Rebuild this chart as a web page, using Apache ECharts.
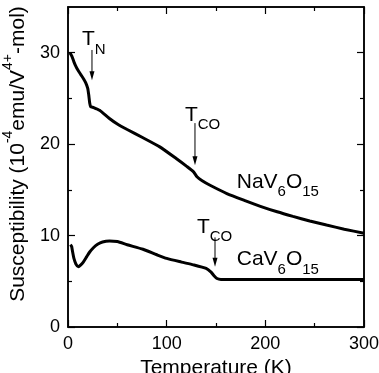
<!DOCTYPE html>
<html>
<head>
<meta charset="utf-8">
<script src="https://cdn.jsdelivr.net/npm/echarts@6/dist/echarts.min.js"></script>
<style>
  html, body { margin: 0; padding: 0; background: #fff; }
  #chart { width: 379px; height: 373px; }
</style>
</head>
<body>
<div id="chart"></div>
<script>
// NaV6O15: [T (K), chi (1e-4 emu/V4+-mol)]
const naData = [
  [2, 30.0], [4, 29.6], [6, 29.0], [8, 28.5], [10, 28.1], [13, 27.6], [16, 27.1],
  [18, 26.7], [20, 26.1], [21, 25.4], [22, 24.5], [23, 24.1], [26, 24.0], [32, 23.7],
  [42, 22.8], [50, 22.2], [60, 21.6], [76, 20.7], [93, 19.7], [110, 18.4], [120, 17.6],
  [127, 17.0], [131, 16.4], [136, 16.0], [144, 15.5], [161, 14.6], [180, 13.8],
  [195, 13.2], [212, 12.6], [228, 12.1], [245, 11.6], [262, 11.15], [280, 10.7], [300, 10.25]
];
// CaV6O15
const caData = [
  [2.5, 9.0], [3.7, 8.8], [4.7, 8.2], [6, 7.5], [8, 6.9], [10.5, 6.6], [13, 6.8],
  [15.5, 7.1], [19, 7.7], [22, 8.2], [26, 8.7], [30, 9.05], [35, 9.3], [42, 9.4],
  [50, 9.35], [60, 9.0], [76, 8.5], [90, 7.9], [100, 7.5], [115, 7.1], [127, 6.8],
  [140, 6.4], [145, 6.0], [148, 5.6], [151, 5.3], [155, 5.2], [170, 5.2], [200, 5.2],
  [250, 5.2], [300, 5.2]
];
const xMajor = [0, 100, 200, 300];
const xMinor = [50, 150, 250];
const yMajor = [0, 10, 20, 30];
const yMinor = [5, 15, 25];
// arrows: [T, chi from, chi to]
const arrowData = [[24.3, 30.3, 27.0], [128.7, 22.3, 17.7], [149, 9.8, 6.6]];
// annotation anchors [T, chi] and their texts
const noteAt = [[14.2, 32.6], [118.5, 24.3], [171, 15.5], [130.7, 12.1], [171, 7.0]];
const noteText = ['{t|T}{b|N}', '{t|T}{b|CO}', '{t|NaV}{b|6}{t|O}{b|15}', '{t|T}{b|CO}', '{t|CaV}{b|6}{t|O}{b|15}'];
const noteAlign = ['top', 'top', 'middle', 'top', 'middle'];

const FONT = '"Liberation Sans", Arial, Helvetica, sans-serif';
const black = '#000';

const chart = echarts.init(document.getElementById('chart'));

const rich = {
  t: { fontSize: 21, fontFamily: FONT, color: black, lineHeight: 28, verticalAlign: 'top' },
  b: { fontSize: 15, fontFamily: FONT, color: black, lineHeight: 28, verticalAlign: 'bottom' }
};

// one axis per side for the long ticks (with line) and one for the short ticks
const axisOf = (dim, pos, ticks, len, line, labels) => ({
  type: 'value',
  min: 0, max: dim === 'x' ? 300 : 35,
  position: pos,
  axisLine: { show: line, onZero: false, lineStyle: { color: black, width: 1.5 } },
  axisTick: { show: true, inside: true, length: len, customValues: ticks, lineStyle: { color: black, width: 1.2 } },
  axisLabel: labels
    ? { show: true, customValues: dim === 'x' ? xMajor : yMajor, color: black, fontSize: 18, fontFamily: FONT }
    : { show: false },
  splitLine: { show: false }
});

chart.setOption({
  animation: false,
  backgroundColor: '#fff',
  grid: {
    left: 68, right: 15, top: 7, bottom: 46,
    outerBoundsMode: 'none',
    show: true, borderColor: black, borderWidth: 1.5
  },
  xAxis: [
    Object.assign(axisOf('x', 'bottom', xMajor, 7, true, true), {
      name: 'Temperature (K)', nameLocation: 'middle', nameGap: 24,
      nameTextStyle: { color: black, fontSize: 21, fontFamily: FONT }
    }),
    axisOf('x', 'top', xMajor, 7, true, false),
    axisOf('x', 'bottom', xMinor, 4, false, false),
    axisOf('x', 'top', xMinor, 4, false, false)
  ],
  yAxis: [
    Object.assign(axisOf('y', 'left', yMajor, 7, true, true), {
      name: '{t|Susceptibility (10}{s|-4}{t|emu/V}{s|4+}{t|-mol)}',
      nameLocation: 'middle', nameRotate: 90, nameGap: 34,
      nameTextStyle: {
        color: black, fontFamily: FONT, padding: [0, 0, 0, 26],
        rich: {
          t: { fontSize: 21, fontFamily: FONT, color: black, lineHeight: 28, verticalAlign: 'bottom' },
          s: { fontSize: 14, fontFamily: FONT, color: black, lineHeight: 28, verticalAlign: 'top' }
        }
      }
    }),
    axisOf('y', 'right', yMajor, 7, true, false),
    axisOf('y', 'left', yMinor, 4, false, false),
    axisOf('y', 'right', yMinor, 4, false, false)
  ],
  series: [
    {
      name: 'NaV6O15', type: 'line', data: naData, xAxisIndex: 0, yAxisIndex: 0,
      showSymbol: false, smooth: 0.2,
      lineStyle: { color: black, width: 3 }
    },
    {
      name: 'CaV6O15', type: 'line', data: caData, xAxisIndex: 0, yAxisIndex: 0,
      showSymbol: false, smooth: 0.2,
      lineStyle: { color: black, width: 3 }
    },
    {
      name: 'arrows', type: 'custom', data: arrowData, xAxisIndex: 0, yAxisIndex: 0,
      silent: true, clip: false,
      encode: { x: 0, y: [1, 2] },
      renderItem: (params, api) => {
        const p1 = api.coord([api.value(0), api.value(1)]);
        const p2 = api.coord([api.value(0), api.value(2)]);
        return {
          type: 'group',
          children: [
            { type: 'line', shape: { x1: p1[0], y1: p1[1], x2: p2[0], y2: p2[1] - 4 }, style: { stroke: black, lineWidth: 1 } },
            { type: 'polygon', shape: { points: [[p2[0] - 2.5, p2[1] - 9], [p2[0] + 2.5, p2[1] - 9], [p2[0], p2[1]]] }, style: { fill: black } }
          ]
        };
      }
    },
    {
      name: 'notes', type: 'custom', data: noteAt, xAxisIndex: 0, yAxisIndex: 0,
      silent: true, clip: false,
      encode: { x: 0, y: 1 },
      renderItem: (params, api) => {
        const p = api.coord([api.value(0), api.value(1)]);
        return {
          type: 'text', x: p[0], y: p[1],
          style: { text: noteText[params.dataIndex], rich: rich, align: 'left', verticalAlign: noteAlign[params.dataIndex], fill: black }
        };
      }
    }
  ]
});
</script>
</body>
</html>
